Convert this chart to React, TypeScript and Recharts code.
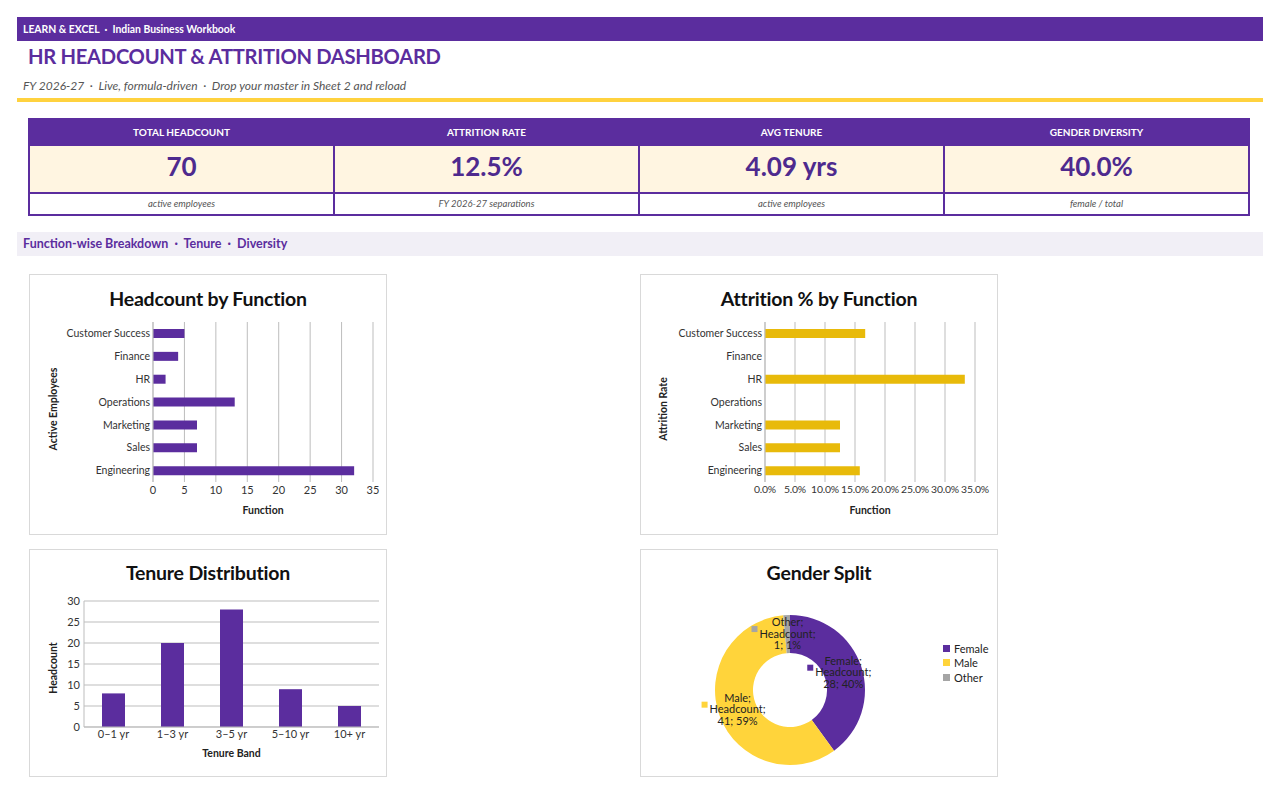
import React from "react";
import { BarChart, Bar, XAxis, YAxis, CartesianGrid, PieChart, Pie, Cell } from "recharts";

const PURPLE = "#5B2D9E";
const GOLD = "#E8BA0A";
const YELLOW = "#FFD43B";
const GREY = "#A5A5A5";
const GRID = "#BDBDBD";
const FONT = "Lato, 'Open Sans', sans-serif";
const SEP = "\u00a0 · \u00a0";

// KPI strip
const kpiLabels = ["TOTAL HEADCOUNT", "ATTRITION RATE", "AVG TENURE", "GENDER DIVERSITY"];
const kpiValues = ["70", "12.5%", "4.09 yrs", "40.0%"];
const kpiNotes = ["active employees", "FY 2026-27 separations", "active employees", "female / total"];

// sheet order (Excel draws the first category at the bottom)
const functionNames = ["Engineering", "Sales", "Marketing", "Operations", "HR", "Finance", "Customer Success"];
const headcountByFunction = [32, 7, 7, 13, 2, 4, 5];
const attritionByFunction = [0.158, 0.125, 0.125, 0, 0.333, 0, 0.167];
const headcountTicks = [0, 5, 10, 15, 20, 25, 30, 35];
const attritionTicks = [0, 0.05, 0.1, 0.15, 0.2, 0.25, 0.3, 0.35];

const tenureBands = ["0–1 yr", "1–3 yr", "3–5 yr", "5–10 yr", "10+ yr"];
const tenureCounts = [8, 20, 28, 9, 5];
const tenureTicks = [0, 5, 10, 15, 20, 25, 30];

const genders = ["Female", "Male", "Other"];
const genderCounts = [28, 41, 1];
const genderColors = [PURPLE, YELLOW, GREY];

const headcountData = functionNames.map((name, i) => ({ name, value: headcountByFunction[i] }));
const attritionData = functionNames.map((name, i) => ({ name, value: attritionByFunction[i] }));
const tenureData = tenureBands.map((name, i) => ({ name, value: tenureCounts[i] }));
const genderData = genders.map((name, i) => ({ name, value: genderCounts[i] }));

const tick = { fontSize: 11, fill: "#333", fontFamily: FONT };
const axisTitle = { fontSize: 10.5, fontWeight: 700, fill: "#222", fontFamily: FONT };

const frame = (left: number, top: number, width: number, height: number): React.CSSProperties => ({
  position: "absolute",
  left,
  top,
  width,
  height,
  border: "1px solid #D9D9D9",
  boxSizing: "border-box",
  background: "#fff",
});

const ChartTitle = ({ text, top }: { text: string; top: number }) => (
  <div
    style={{
      position: "absolute",
      left: 0,
      right: 0,
      top,
      textAlign: "center",
      fontSize: 19.5,
      fontWeight: 700,
      color: "#111",
      fontFamily: FONT,
      letterSpacing: -0.2,
    }}
  >
    {text}
  </div>
);

// plain category tick, no wrapping
const CategoryTick = (props: any) => {
  const { x, y, payload } = props;
  return (
    <text x={x - 1} y={y} dy="0.35em" textAnchor="end" {...tick} fontSize={10.5}>
      {payload.value}
    </text>
  );
};

const GenderLabel = (props: any) => {
  const { cx, cy, midAngle, value, name, index } = props;
  const RAD = Math.PI / 180;
  const r = 56;
  const x = cx + r * Math.cos(-midAngle * RAD);
  const y = cy + r * Math.sin(-midAngle * RAD);
  const total = genderCounts.reduce((a, b) => a + b, 0);
  const pct = Math.round((value / total) * 100);
  return (
    <g>
      <rect x={x - 36} y={y - 8} width={6} height={6} fill={genderColors[index]} />
      <text x={x} y={y} textAnchor="middle" fontSize={11} fill="#222" fontFamily={FONT}>
        <tspan x={x} dy={-8}>{name};</tspan>
        <tspan x={x} dy={11.5}>Headcount;</tspan>
        <tspan x={x} dy={11.5}>{`${value}; ${pct}%`}</tspan>
      </text>
    </g>
  );
};

export default function App() {
  return (
    <div style={{ position: "absolute", left: 0, top: 0, width: 1280, height: 794, background: "#fff", fontFamily: FONT }}>
      {/* top band */}
      <div
        style={{
          position: "absolute",
          left: 17,
          top: 17,
          width: 1246,
          height: 24,
          background: PURPLE,
          color: "#fff",
          fontSize: 10.4,
          fontWeight: 700,
          lineHeight: "24px",
          paddingLeft: 6,
          boxSizing: "border-box",
        }}
      >
        {`LEARN & EXCEL${SEP}Indian Business Workbook`}
      </div>
      <div style={{ position: "absolute", left: 28, top: 44, fontSize: 20.2, fontWeight: 700, color: PURPLE, letterSpacing: -0.3 }}>
        HR HEADCOUNT &amp; ATTRITION DASHBOARD
      </div>
      <div style={{ position: "absolute", left: 23, top: 78, fontSize: 12, fontStyle: "italic", color: "#555" }}>
        {`FY 2026-27${SEP}Live, formula-driven${SEP}Drop your master in Sheet 2 and reload`}
      </div>
      <div style={{ position: "absolute", left: 17, top: 98, width: 1246, height: 4, background: "#FFD23F" }} />

      {/* KPI table */}
      <div
        style={{
          position: "absolute",
          left: 28,
          top: 118,
          width: 1222,
          height: 98,
          border: `2px solid ${PURPLE}`,
          boxSizing: "border-box",
          display: "flex",
        }}
      >
        {kpiLabels.map((label, i) => (
          <div
            key={label}
            style={{ flex: 1, display: "flex", flexDirection: "column", borderLeft: i ? `2px solid ${PURPLE}` : "none" }}
          >
            <div
              style={{
                height: 25,
                background: PURPLE,
                color: "#fff",
                fontSize: 10,
                fontWeight: 700,
                textAlign: "center",
                lineHeight: "24px",
              }}
            >
              {label}
            </div>
            <div
              style={{
                height: 49,
                background: "#FFF5E1",
                borderTop: `1px solid ${PURPLE}`,
                borderBottom: `2px solid ${PURPLE}`,
                color: "#4E2A8E",
                fontSize: 26,
                fontWeight: 700,
                textAlign: "center",
                lineHeight: "40px",
                boxSizing: "border-box",
              }}
            >
              {kpiValues[i]}
            </div>
            <div style={{ flex: 1, fontSize: 9.5, fontStyle: "italic", color: "#555", textAlign: "center", lineHeight: "19px" }}>
              {kpiNotes[i]}
            </div>
          </div>
        ))}
      </div>

      {/* section band */}
      <div
        style={{
          position: "absolute",
          left: 17,
          top: 232,
          width: 1246,
          height: 24,
          background: "#F1EFF6",
          color: PURPLE,
          fontSize: 12.5,
          fontWeight: 700,
          lineHeight: "24px",
          paddingLeft: 6,
          boxSizing: "border-box",
        }}
      >
        {`Function-wise Breakdown${SEP}Tenure${SEP}Diversity`}
      </div>

      {/* Headcount by Function */}
      <div style={frame(29, 274, 358, 261)}>
        <ChartTitle text="Headcount by Function" top={12} />
        <div style={{ position: "absolute", left: -1, top: -1 }}>
          <BarChart width={358} height={261} layout="vertical" data={headcountData} margin={{ top: 48, right: 14, bottom: 21, left: 24 }}>
            <CartesianGrid horizontal={false} stroke={GRID} />
            <XAxis
              type="number"
              domain={[0, 35]}
              ticks={headcountTicks}
              interval={0}
              axisLine={false}
              tickLine={false}
              tickSize={4}
              tickMargin={0}
              height={32}
              tick={tick}
              label={{ value: "Function", position: "insideBottom", offset: 0, ...axisTitle }}
            />
            <YAxis
              type="category"
              dataKey="name"
              reversed
              width={100}
              interval={0}
              axisLine={{ stroke: GRID }}
              tickLine={false}
              tickSize={0}
              tick={<CategoryTick />}
              label={{ value: "Active Employees", angle: -90, position: "insideLeft", offset: 0, dy: 7, style: { textAnchor: "middle" }, ...axisTitle }}
            />
            <Bar dataKey="value" fill={PURPLE} barSize={9} isAnimationActive={false} />
          </BarChart>
        </div>
      </div>

      {/* Attrition % by Function */}
      <div style={frame(640, 274, 358, 261)}>
        <ChartTitle text="Attrition % by Function" top={12} />
        <div style={{ position: "absolute", left: -1, top: -1 }}>
          <BarChart width={358} height={261} layout="vertical" data={attritionData} margin={{ top: 48, right: 23, bottom: 21, left: 23 }}>
            <CartesianGrid horizontal={false} stroke={GRID} />
            <XAxis
              type="number"
              domain={[0, 0.35]}
              ticks={attritionTicks}
              interval={0}
              axisLine={false}
              tickLine={false}
              tickSize={4}
              tickMargin={0}
              height={32}
              tick={{ ...tick, fontSize: 10.4, letterSpacing: -0.2 }}
              tickFormatter={(v: number) => `${(v * 100).toFixed(1)}%`}
              label={{ value: "Function", position: "insideBottom", offset: 0, ...axisTitle }}
            />
            <YAxis
              type="category"
              dataKey="name"
              reversed
              width={102}
              interval={0}
              axisLine={{ stroke: GRID }}
              tickLine={false}
              tickSize={0}
              tick={<CategoryTick />}
              label={{ value: "Attrition Rate", angle: -90, position: "insideLeft", offset: 0, dy: 7, style: { textAnchor: "middle" }, ...axisTitle }}
            />
            <Bar dataKey="value" fill={GOLD} barSize={9} isAnimationActive={false} />
          </BarChart>
        </div>
      </div>

      {/* Tenure Distribution */}
      <div style={frame(29, 549, 358, 228)}>
        <ChartTitle text="Tenure Distribution" top={11} />
        <div style={{ position: "absolute", left: -1, top: -1 }}>
          <BarChart width={358} height={228} data={tenureData} margin={{ top: 52, right: 8, bottom: 20, left: 24 }}>
            <CartesianGrid vertical={false} stroke={GRID} />
            <XAxis
              dataKey="name"
              interval={0}
              axisLine={{ stroke: GRID }}
              tickLine={false}
              tickSize={0}
              tickMargin={3}
              height={30}
              tick={tick}
              label={{ value: "Tenure Band", position: "insideBottom", offset: 0, ...axisTitle }}
            />
            <YAxis
              type="number"
              domain={[0, 30]}
              ticks={tenureTicks}
              interval={0}
              width={31}
              axisLine={{ stroke: GRID }}
              tickLine={false}
              tickSize={0}
              tickMargin={4}
              tick={tick}
              label={{ value: "Headcount", angle: -90, position: "insideLeft", offset: 0, dy: 4, style: { textAnchor: "middle" }, ...axisTitle }}
            />
            <Bar dataKey="value" fill={PURPLE} barSize={23} isAnimationActive={false} />
          </BarChart>
        </div>
      </div>

      {/* Gender Split */}
      <div style={frame(640, 549, 358, 228)}>
        <ChartTitle text="Gender Split" top={11} />
        <div style={{ position: "absolute", left: -1, top: -1 }}>
          <PieChart width={358} height={228} margin={{ top: 0, right: 0, bottom: 0, left: 0 }}>
            <Pie
              data={genderData}
              dataKey="value"
              nameKey="name"
              cx={150}
              cy={141}
              innerRadius={37}
              outerRadius={75}
              startAngle={90}
              endAngle={-270}
              stroke="none"
              label={GenderLabel}
              labelLine={false}
              isAnimationActive={false}
            >
              {genderData.map((d, i) => (
                <Cell key={d.name} fill={genderColors[i]} />
              ))}
            </Pie>
          </PieChart>
        </div>
        <div style={{ position: "absolute", left: 302, top: 91, fontFamily: FONT, fontSize: 11, color: "#222" }}>
          {genders.map((g, i) => (
            <div key={g} style={{ display: "flex", alignItems: "center", height: 14.5 }}>
              <span style={{ width: 7, height: 7, background: genderColors[i], marginRight: 4, display: "inline-block" }} />
              {g}
            </div>
          ))}
        </div>
      </div>
    </div>
  );
}
